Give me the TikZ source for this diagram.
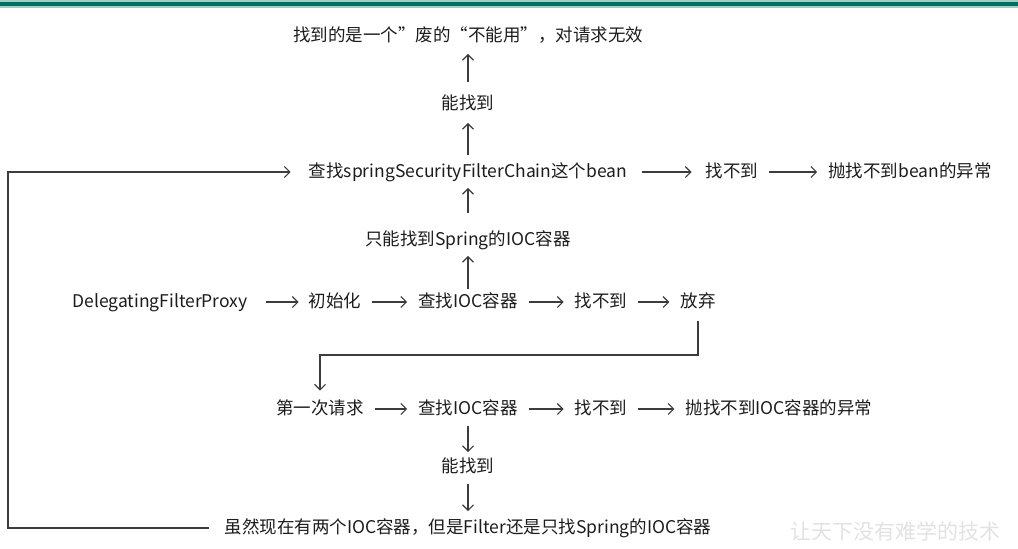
\documentclass[tikz,border=0pt]{standalone}
\usepackage{fontspec}
\setmainfont{Noto Sans CJK SC}
\usetikzlibrary{arrows.meta}
\definecolor{flowtext}{RGB}{28,28,28}
\definecolor{flowline}{RGB}{60,60,60}
\definecolor{barteal}{RGB}{0,110,98}
\definecolor{barlight}{RGB}{160,205,196}
\definecolor{markgray}{RGB}{226,226,226}

\begin{document}
\begin{tikzpicture}[x=1pt,y=-1pt,
  every node/.style={font=\fontsize{17.5}{20}\selectfont,text=flowtext},
  txt/.style={inner xsep=0pt,inner ysep=2pt,text height=13.5pt,text depth=2pt},
  flow/.style={draw=flowline,line width=1.1pt,
               -{Straight Barb[length=5.5pt,width=11pt]}},
  hflow/.style={flow,shorten <=11pt,shorten >=11pt},
]
\useasboundingbox (0,0) rectangle (1018,549);

%% Top bar
\fill[barlight] (0,0) rectangle (1018,7.5);
\fill[barteal]  (0,1.8) rectangle (1018,5.8);

%% Upper column
\node[txt] (result) at (468,36) {找到的是一个”废的“不能用”，对请求无效};
\node[txt] (findA)  at (468,104) {能找到};

%% Row: springSecurityFilterChain
\node[txt] (chain)   at (468,172) {查找springSecurityFilterChain这个bean};
\node[txt] (nobean)  at (732,172) {找不到};
\node[txt] (beanerr) at (910,172) {抛找不到bean的异常};

\node[txt] (onlyspring) at (468,240) {只能找到Spring的IOC容器};

%% Row: init
\node[txt] (proxy)  at (160,302) {DelegatingFilterProxy};
\node[txt] (init)   at (335,302) {初始化};
\node[txt] (iocA)   at (468,302) {查找IOC容器};
\node[txt] (noiocA) at (601,302) {找不到};
\node[txt] (giveup) at (698,302) {放弃};

%% Row: first request
\node[txt] (first)  at (320,409) {第一次请求};
\node[txt] (iocB)   at (468,409) {查找IOC容器};
\node[txt] (noiocB) at (601,409) {找不到};
\node[txt] (iocerr) at (779,409) {抛找不到IOC容器的异常};

\node[txt] (findB) at (468,467) {能找到};
\node[txt] (both)  at (468,528)
  {虽然现在有两个IOC容器，但是Filter还是只找Spring的IOC容器};

%% Watermark
\node[font=\fontsize{21}{24}\selectfont,text=markgray] (mark) at (895,531)
  {让天下没有难学的技术};

%% Vertical arrows
\draw[flow,shorten <=12.5pt,shorten >=8pt] (findA.north) -- (result.south);
\draw[flow,shorten <=7pt,shorten >=9pt] (chain.north) -- (findA.south);
\draw[flow,shorten <=17pt,shorten >=6pt] (onlyspring.north) -- (chain.south);
\draw[flow,shorten <=3pt,shorten >=6pt] (iocA.north) -- (onlyspring.south);
\draw[flow,shorten <=7pt,shorten >=5pt] (iocB.south) -- (findB.north);
\draw[flow,shorten <=7pt,shorten >=7pt] (findB.south) -- (both.north);

%% Horizontal arrows
\draw[hflow,shorten <=15pt,shorten >=14pt] (chain.east) -- (nobean.west);
\draw[hflow] (nobean.east) -- (beanerr.west);
\draw[hflow,shorten <=18pt,shorten >=10pt] (proxy.east) -- (init.west);
\draw[hflow] (init.east) -- (iocA.west);
\draw[hflow] (iocA.east) -- (noiocA.west);
\draw[hflow] (noiocA.east) -- (giveup.west);
\draw[hflow] (first.east) -- (iocB.west);
\draw[hflow] (iocB.east) -- (noiocB.west);
\draw[hflow] (noiocB.east) -- (iocerr.west);

%% Give up -> first request
\coordinate (elbow) at (500,355);
\draw[flow,shorten <=9pt,shorten >=8.5pt]
  (giveup.south) |- (elbow) -| (first.north);

%% Loop back to the filter chain lookup
\coordinate (loopL) at (8,350);
\draw[flow,shorten <=15pt,shorten >=18pt]
  (both.west) -- (both.west -| loopL) -- (chain.west -| loopL) -- (chain.west);

\end{tikzpicture}
\end{document}
